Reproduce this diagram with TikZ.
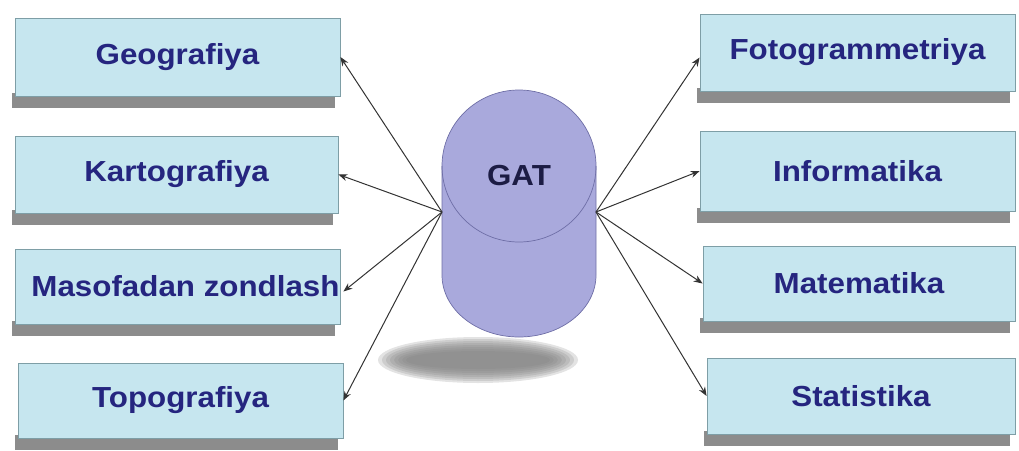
\documentclass[tikz,border=0pt]{standalone}
\usepackage{fontspec}
\setmainfont{Liberation Sans}
\newfontfamily\lblfont[FakeStretch=1.08]{Liberation Sans}
\usetikzlibrary{arrows.meta,calc}
\definecolor{boxfill}{HTML}{C6E6EF}
\definecolor{boxline}{HTML}{7E9EA6}
\definecolor{shadowbar}{HTML}{8C8C8C}
\definecolor{lbltext}{HTML}{25257F}
\definecolor{cylfill}{HTML}{A9A9DC}
\definecolor{cylline}{HTML}{6E6EA6}
\definecolor{gattext}{HTML}{1C1C44}
\tikzset{
  topic/.style={draw=boxline, line width=0.8pt, fill=boxfill, inner sep=0pt,
    font=\lblfont\bfseries\fontsize{29}{32}\selectfont, text=lbltext},
  link/.style={draw=black!80, line width=1pt, -{Stealth[length=9pt,width=7pt]}},
}
\newcommand{\topicbox}[6]{% name, x1, y1, x2, y2, text
  \fill[shadowbar] (#2-3,#5-2) rectangle (#4-5,#5+13);
  \node[topic, minimum width={#4-#2}, minimum height={#5-#3}] (#1) at ({(#2+#4)/2},{(#3+#5)/2+1}) {#6};
}
\begin{document}
\begin{tikzpicture}[x=1pt,y=-1pt]
\useasboundingbox (0,0) rectangle (1019,450);
% left boxes
\topicbox{geo}{15}{17}{340}{95}{Geografiya}
\topicbox{kart}{15}{135}{338}{212}{Kartografiya}
\topicbox{maso}{15}{248}{340}{323}{\hspace*{16pt}Masofadan zondlash}
\topicbox{topo}{18}{362}{343}{437}{Topografiya}
% right boxes
\topicbox{foto}{700}{13}{1015}{90}{Fotogrammetriya}
\topicbox{info}{700}{130}{1015}{210}{Informatika}
\topicbox{mate}{703}{245}{1015}{320}{Matematika}
\topicbox{stat}{707}{357}{1015}{433}{Statistika}
% shadow of cylinder
\foreach \i in {0,...,7}
  \fill[black!50, opacity=0.22] (478,360) ellipse ({100-4*\i} and {23-2*\i});
% cylinder
\path[fill=cylfill, draw=cylline, line width=0.7pt]
  (442,166) -- (442,275) arc[start angle=180, end angle=360, x radius=77, y radius=-62]
  -- (596,166) arc[start angle=0, end angle=180, x radius=77, y radius=-76] -- cycle;
\draw[cylline, line width=0.7pt] (442,166) arc[start angle=180, end angle=360, x radius=77, y radius=-76];
\node[font=\lblfont\bfseries\fontsize{29}{32}\selectfont, text=gattext] (gat) at (519,176) {GAT};
\coordinate (gl) at (442,212);
\coordinate (gr) at (596,212);
% connectors
\draw[link] (gl) -- (geo.east);
\draw[link] (gl) -- (kart.east);
\draw[link] (gl) -- ($(maso.east)+(3,5)$);
\draw[link] (gl) -- (topo.east);
\draw[link] (gr) -- ($(foto.west)+(0,5)$);
\draw[link] (gr) -- (info.west);
\draw[link] (gr) -- (mate.west);
\draw[link] (gr) -- (stat.west);
\end{tikzpicture}
\end{document}
